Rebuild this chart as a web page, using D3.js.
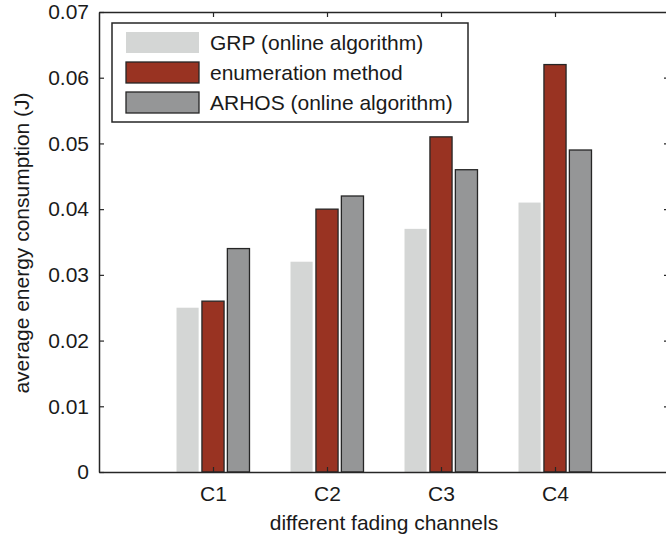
<!DOCTYPE html>
<html>
<head>
<meta charset="utf-8">
<script src="https://cdn.jsdelivr.net/npm/d3@7"></script>
<style>
  body { margin: 0; background: #fff; }
  svg { display: block; font-family: "Liberation Sans", Arial, sans-serif; }
</style>
</head>
<body>
<div id="chart"></div>
<script>
// data
var channels = ["C1", "C2", "C3", "C4"]
var seriesNames = ["GRP (online algorithm)", "enumeration method", "ARHOS (online algorithm)"]
var grp = [0.025, 0.032, 0.037, 0.041]
var enumeration = [0.026, 0.040, 0.051, 0.062]
var arhos = [0.034, 0.042, 0.046, 0.049]
var yTicks = [0, 0.01, 0.02, 0.03, 0.04, 0.05, 0.06, 0.07]

var colors = ["#d4d6d5", "#993322", "#959697"]
var strokes = ["none", "#262626", "#262626"]

var width = 666, height = 539
var fontSize = "21px"
// plot box (right edge falls just outside the picture)
var box = { left: 99, right: 669, top: 12, bottom: 472 }

var svg = d3.select("#chart").append("svg").attr("width", width).attr("height", height)

var x = d3.scaleLinear().domain([0, channels.length + 1]).range([box.left, box.right])
var y = d3.scaleLinear().domain([0, 0.07]).range([box.bottom, box.top])
var inner = d3.scaleBand().domain([0, 1, 2]).range([-37, 37]).paddingInner(0.13).paddingOuter(0.02)

var rows = channels.map(function(c, i) {
  return { ch: c, vals: [grp[i], enumeration[i], arhos[i]] }
})

// bars
var groups = svg.selectAll(".grp").data(rows).enter().append("g")
  .attr("class", "grp")
  .attr("transform", function(d, i) { return "translate(" + x(i + 1) + ",0)" })

groups.selectAll("rect").data(function(d) { return d.vals }).enter().append("rect")
  .attr("x", function(d, j) { return inner(j) })
  .attr("width", inner.bandwidth())
  .attr("y", function(d) { return y(d) })
  .attr("height", function(d) { return y(0) - y(d) })
  .attr("fill", function(d, j) { return colors[j] })
  .attr("stroke", function(d, j) { return strokes[j] })
  .attr("stroke-width", 1.3)

// axes (ticks inward, mirrored box)
var axisColor = "#262626"
var yLeft = d3.axisLeft(y).tickValues(yTicks).tickSizeInner(-5).tickSizeOuter(0).tickPadding(10)
  .tickFormat(function(d) { return d === 0 ? "0" : d3.format(".2f")(d) })
var yRight = d3.axisRight(y).tickValues(yTicks).tickSizeInner(-5).tickSizeOuter(0).tickFormat("")
var xBottom = d3.axisBottom(x).tickValues([1, 2, 3, 4]).tickSizeInner(-5).tickSizeOuter(0).tickPadding(14)
  .tickFormat(function(d) { return channels[d - 1] })
var xTop = d3.axisTop(x).tickValues([1, 2, 3, 4]).tickSizeInner(-5).tickSizeOuter(0).tickFormat("")

function styleAxis(g) {
  g.selectAll("path").attr("stroke", axisColor).attr("stroke-width", 1.5)
  g.selectAll("line").attr("stroke", axisColor).attr("stroke-width", 1.2)
  g.selectAll("text").attr("fill", "#1a1a1a").style("font-size", fontSize).style("font-family", "Liberation Sans, Arial, sans-serif")
}

svg.append("g").attr("transform", "translate(" + box.left + ",0)").call(yLeft).call(styleAxis)
svg.append("g").attr("transform", "translate(" + box.right + ",0)").call(yRight).call(styleAxis)
svg.append("g").attr("transform", "translate(0," + box.bottom + ")").call(xBottom).call(styleAxis)
svg.append("g").attr("transform", "translate(0," + box.top + ")").call(xTop).call(styleAxis)

// axis titles
svg.append("text")
  .attr("x", (box.left + box.right) / 2).attr("y", 530)
  .attr("text-anchor", "middle")
  .style("font-size", fontSize).attr("fill", "#1a1a1a")
  .text("different fading channels")

svg.append("text")
  .attr("transform", "translate(29," + 243 + ") rotate(-90)")
  .attr("text-anchor", "middle")
  .style("font-size", fontSize).attr("fill", "#1a1a1a")
  .text("average energy consumption (J)")

// legend
var lg = svg.append("g").attr("transform", "translate(112,23)")
lg.append("rect").attr("width", 356).attr("height", 99)
  .attr("fill", "#fff").attr("stroke", axisColor).attr("stroke-width", 1.5)

var items = lg.selectAll(".item").data(seriesNames).enter().append("g")
  .attr("class", "item")
  .attr("transform", function(d, i) { return "translate(14," + (9 + i * 30) + ")" })
items.append("rect")
  .attr("width", 73).attr("height", 21)
  .attr("fill", function(d, i) { return colors[i] })
  .attr("stroke", function(d, i) { return strokes[i] })
  .attr("stroke-width", 1.3)
items.append("text")
  .attr("x", 84).attr("y", 11).attr("dy", "0.35em")
  .style("font-size", fontSize).attr("fill", "#1a1a1a")
  .text(function(d) { return d })
</script>
</body>
</html>
